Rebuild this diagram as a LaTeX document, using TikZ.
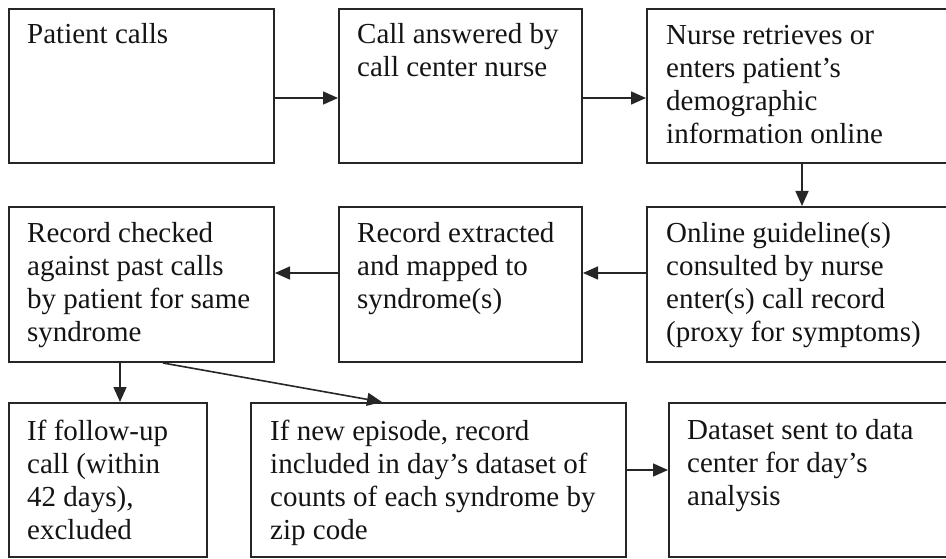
\documentclass[tikz,border=0pt]{standalone}
\usepackage{fontspec}
\setmainfont{Liberation Serif}
\usetikzlibrary{arrows.meta}
\definecolor{ink}{HTML}{262626}
\begin{document}
\begin{tikzpicture}[x=1pt,y=1pt,
  boxst/.style={draw=ink, line width=2pt, inner sep=0pt, fill=none},
  txt/.style={anchor=north west, inner sep=0pt, align=left, text=black!92,
    font=\fontsize{29}{33}\selectfont},
  arr/.style={draw=ink, line width=1.6pt, -{Triangle[length=15pt,width=13pt]}}]
\useasboundingbox (0,0) rectangle (946,-559);
\clip (0,0) rectangle (946,-559);
% row 1
\node[boxst, minimum width=265pt, minimum height=154pt] (A) at (141.5,-86) {};
\node[boxst, minimum width=243pt, minimum height=154pt] (B) at (460.5,-86) {};
\node[boxst, minimum width=313pt, minimum height=154pt] (C) at (803.5,-86) {};
% row 2
\node[boxst, minimum width=265pt, minimum height=155pt] (D) at (141.5,-284.5) {};
\node[boxst, minimum width=243pt, minimum height=155pt] (E) at (460.5,-284.5) {};
\node[boxst, minimum width=313pt, minimum height=155pt] (F) at (803.5,-284.5) {};
% row 3
\node[boxst, minimum width=198pt, minimum height=154pt] (G) at (108,-480) {};
\node[boxst, minimum width=375pt, minimum height=154pt] (H) at (438.5,-480) {};
\node[boxst, minimum width=291pt, minimum height=154pt] (I) at (814.5,-480) {};
% texts
\node[txt] (tA) at ([shift={(19,-12)}]A.north west) {\strut Patient calls};
\node[txt] (tB) at ([shift={(19,-12)}]B.north west) {\strut Call answered by\\call center nurse};
\node[txt] (tC) at ([shift={(20,-13)}]C.north west) {\strut Nurse retrieves or\\enters patient’s\\demographic\\information online};
\node[txt] (tD) at ([shift={(19,-13)}]D.north west) {\strut Record checked\\against past calls\\by patient for same\\syndrome};
\node[txt] (tE) at ([shift={(19,-13)}]E.north west) {\strut Record extracted\\and mapped to\\syndrome(s)};
\node[txt] (tF) at ([shift={(20,-13)}]F.north west) {\strut Online guideline(s)\\consulted by nurse\\enter(s) call record\\(proxy for symptoms)};
\node[txt] (tG) at ([shift={(19,-15)}]G.north west) {\strut If follow-up\\call (within\\42 days),\\excluded};
\node[txt] (tH) at ([shift={(20,-15)}]H.north west) {\strut If new episode, record\\included in day’s dataset of\\counts of each syndrome by\\zip code};
\node[txt] (tI) at ([shift={(19,-14)}]I.north west) {\strut Dataset sent to data\\center for day’s\\analysis};
% helper coordinates
\coordinate (yr1) at (0,-98);
\coordinate (yr2) at (0,-273);
\coordinate (yr3) at (0,-470);
\coordinate (xc) at (802,0);
\coordinate (xd) at (120,0);
\coordinate (xs) at (163,0);
\coordinate (xe) at (382,0);
% connectors
\draw[arr] (A.east |- yr1) -- (B.west |- yr1);
\draw[arr] (B.east |- yr1) -- (C.west |- yr1);
\draw[arr] (C.south -| xc) -- (F.north -| xc);
\draw[arr] (F.west |- yr2) -- (E.east |- yr2);
\draw[arr] (E.west |- yr2) -- (D.east |- yr2);
\draw[arr] (D.south -| xd) -- (G.north -| xd);
\draw[arr] (D.south -| xs) -- (H.north -| xe);
\draw[arr] (H.east |- yr3) -- (I.west |- yr3);
\end{tikzpicture}
\end{document}
